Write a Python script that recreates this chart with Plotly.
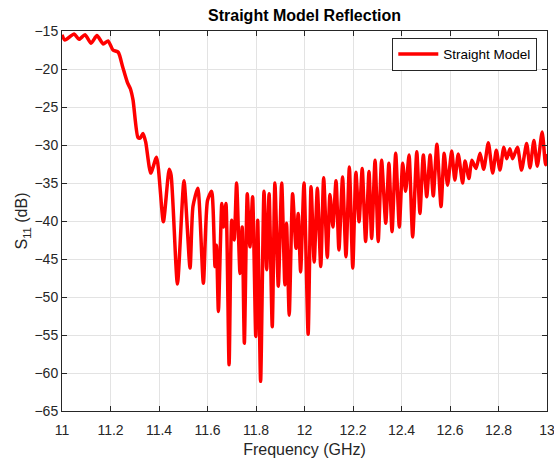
import plotly.graph_objects as go

freq = [11.000, 11.012, 11.050, 11.070, 11.095, 11.120, 11.144, 11.170, 11.190, 11.210,
        11.232, 11.250, 11.270, 11.282, 11.293, 11.313, 11.322, 11.334, 11.345, 11.366,
        11.390, 11.418, 11.442, 11.450, 11.476, 11.503, 11.528, 11.540, 11.560, 11.583,
        11.600, 11.617, 11.631, 11.637, 11.645, 11.659, 11.666, 11.676, 11.689, 11.700,
        11.710, 11.720, 11.734, 11.743, 11.752, 11.764, 11.775, 11.786, 11.799, 11.807,
        11.819, 11.833, 11.844, 11.854, 11.867, 11.878, 11.892, 11.906, 11.919, 11.926,
        11.937, 11.951, 11.965, 11.974, 11.984, 11.998, 12.015, 12.027, 12.040, 12.053,
        12.067, 12.079, 12.094, 12.105, 12.117, 12.130, 12.142, 12.157, 12.171, 12.185,
        12.199, 12.212, 12.225, 12.238, 12.252, 12.266, 12.277, 12.291, 12.304, 12.318,
        12.335, 12.348, 12.361, 12.376, 12.391, 12.405, 12.417, 12.431, 12.446, 12.463,
        12.476, 12.490, 12.504, 12.518, 12.531, 12.546, 12.563, 12.576, 12.590, 12.607,
        12.620, 12.634, 12.652, 12.662, 12.678, 12.690, 12.707, 12.724, 12.739, 12.758,
        12.776, 12.791, 12.806, 12.822, 12.834, 12.847, 12.858, 12.878, 12.895, 12.916,
        12.930, 12.946, 12.960, 12.980, 12.994, 13.000]

s11 = [-15.5, -16.2, -15.4, -16.1, -15.5, -16.6, -15.6, -16.7, -16.3, -17.5,
       -17.8, -19.7, -21.8, -22.6, -24.1, -29.0, -29.1, -28.5, -29.6, -33.7,
       -31.6, -40.1, -33.2, -34.0, -48.3, -34.7, -46.2, -38.1, -35.7, -48.2,
       -37.3, -36.1, -46.0, -43.2, -51.9, -37.7, -40.8, -37.7, -58.9, -39.9,
       -42.5, -35.0, -46.9, -40.8, -56.1, -36.4, -43.4, -36.8, -55.2, -39.9,
       -61.1, -36.1, -46.4, -36.4, -53.9, -35.0, -48.6, -35.0, -48.4, -40.3,
       -52.4, -36.4, -43.6, -39.0, -46.7, -35.0, -54.9, -35.5, -45.4, -35.7,
       -46.0, -34.3, -44.8, -36.5, -40.8, -34.7, -43.8, -34.2, -44.7, -32.9,
       -46.2, -33.6, -40.1, -33.1, -42.7, -33.5, -42.3, -32.0, -42.7, -32.0,
       -40.3, -32.4, -41.4, -31.1, -40.8, -32.4, -36.1, -31.3, -42.1, -30.9,
       -39.0, -31.3, -36.8, -31.3, -36.7, -29.9, -38.1, -31.1, -35.3, -30.8,
       -34.6, -31.2, -35.0, -32.1, -34.4, -32.0, -33.1, -31.1, -33.2, -29.7,
       -33.7, -30.7, -33.3, -30.3, -31.8, -30.5, -31.8, -30.3, -33.3, -29.8,
       -33.0, -29.4, -32.8, -28.3, -32.6, -31.2]

x_ticks = [11, 11.2, 11.4, 11.6, 11.8, 12, 12.2, 12.4, 12.6, 12.8, 13]
x_tick_text = ["11", "11.2", "11.4", "11.6", "11.8", "12", "12.2", "12.4", "12.6", "12.8", "13"]
y_ticks = [-65, -60, -55, -50, -45, -40, -35, -30, -25, -20, -15]

FONT = "Liberation Sans, Arial, sans-serif"

fig = go.Figure()
fig.add_trace(go.Scatter(
    x=freq, y=s11, mode="lines", name="Straight Model",
    line=dict(color="#ff0000", width=3.5, shape="spline", smoothing=0.6),
))

axis_common = dict(
    showline=True, linecolor="#262626", linewidth=1, mirror="ticks",
    ticks="inside", ticklen=5, tickcolor="#262626",
    showgrid=True, gridcolor="#e3e3e3", gridwidth=1, zeroline=False,
    automargin=False, ticklabeloverflow="allow",
    tickfont=dict(family=FONT, size=14, color="#262626"),
)

fig.update_layout(
    width=554, height=458,
    margin=dict(l=62, r=7, t=31, b=47),
    paper_bgcolor="white", plot_bgcolor="white",
    title=dict(text="<b>Straight Model Reflection</b>", x=(62 + 547) / 2 / 554, xanchor="center",
               y=1 - 15 / 458, yanchor="middle",
               font=dict(family=FONT, size=16, color="#000000")),
    xaxis=dict(range=[11, 13], tickvals=x_ticks, ticktext=x_tick_text,
               ticklabelstandoff=6,
               title=dict(text="Frequency (GHz)", standoff=9,
                          font=dict(family=FONT, size=16, color="#262626")),
               **axis_common),
    yaxis=dict(range=[-65, -15], tickvals=y_ticks,
               title=dict(text="S<sub>11</sub> (dB)", standoff=2,
                          font=dict(family=FONT, size=16, color="#262626")),
               **axis_common),
    showlegend=True,
    legend=dict(x=0.98, y=0.982, xanchor="right", yanchor="top",
                bgcolor="white", bordercolor="#262626", borderwidth=1,
                font=dict(family=FONT, size=13.5, color="#000000"),
                itemwidth=40, tracegroupgap=0),
)

fig.write_html("out.html", config={"displayModeBar": False},
               post_script="document.body.style.margin='0';document.body.style.overflow='hidden';")
